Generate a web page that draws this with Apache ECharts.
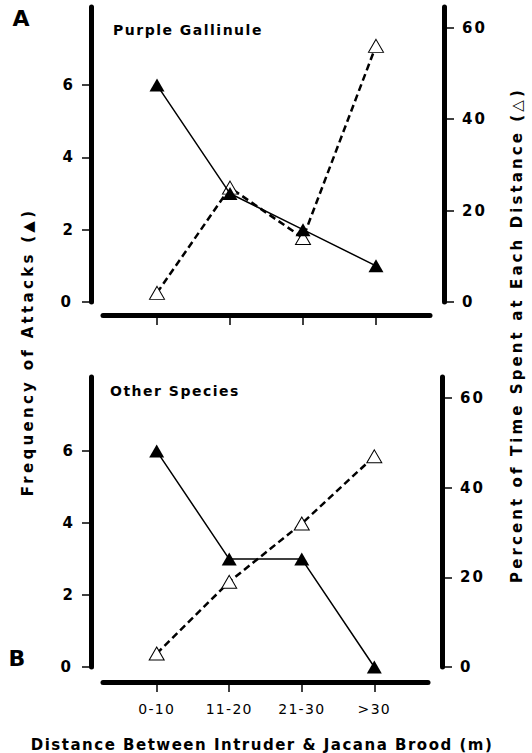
<!DOCTYPE html>
<html>
<head>
<meta charset="utf-8">
<script src="https://cdn.jsdelivr.net/npm/echarts@6/dist/echarts.min.js"></script>
<style>
html, body { margin: 0; padding: 0; background: #fff; }
#chart { width: 532px; height: 753px; }
</style>
</head>
<body>
<div id="chart"></div>
<script>
// distance classes and tick values
var distances = ['0-10', '11-20', '21-30', '>30'];
var freqTicks = [0, 2, 4, 6];
var pctTicks = [0, 20, 40, 60];

// A: Purple Gallinule
var gallinuleAttacks = [6, 3, 2, 1];      // frequency of attacks (filled)
var gallinuleTime = [2, 25, 14, 56];      // percent of time (open)

// B: Other species
var otherAttacks = [6, 3, 3, 0];
var otherTime = [3, 19, 32, 47];

var FONT = 'DejaVu Sans';
var leftTitle = 'Frequency of Attacks (\u25B2)';
var rightTitle = 'Percent of Time Spent at Each Distance (\u25B3)';
var xTitle = 'Distance Between Intruder & Jacana Brood (m)';

function pairs(vals) {
    return distances.map(function (d, i) { return [i, vals[i]]; });
}

var panels = [
    { grid: { left: 103, right: 102, top: 7, height: 295 }, freqMax: 8.16, pctMax: 64.5, xOffset: 13, labels: false,
      attacks: gallinuleAttacks, time: gallinuleTime },
    { grid: { left: 103, right: 104, top: 377, height: 290 }, freqMax: 8.06, pctMax: 64.7, xOffset: 15, labels: true,
      attacks: otherAttacks, time: otherTime }
];

var grids = [], xAxes = [], yAxes = [], series = [];
panels.forEach(function (p, k) {
    grids.push(p.grid);
    xAxes.push({
        type: 'value', gridIndex: k, position: 'bottom', min: -0.74, max: 3.74, offset: p.xOffset,
        axisLine: { show: true, onZero: false, lineStyle: { color: '#000', width: 5 } },
        axisTick: { show: true, customValues: [0, 1, 2, 3], length: 10, lineStyle: { color: '#000', width: 1.5 } },
        axisLabel: {
            show: p.labels, customValues: [0, 1, 2, 3], margin: 20,
            color: '#000', fontFamily: FONT, fontSize: 14,
            formatter: function (v) { return distances[Math.round(v)]; }
        },
        splitLine: { show: false }
    });
    yAxes.push({
        type: 'value', gridIndex: k, position: 'left', offset: 12, min: 0, max: p.freqMax,
        axisLine: { show: true, onZero: false, lineStyle: { color: '#000', width: 5 } },
        axisTick: { show: true, customValues: freqTicks, length: 9, lineStyle: { color: '#000', width: 1.5 } },
        axisLabel: { customValues: freqTicks, margin: 18, color: '#000', fontFamily: FONT, fontWeight: 'bold', fontSize: 15 },
        splitLine: { show: false }
    });
    yAxes.push({
        type: 'value', gridIndex: k, position: 'right', offset: 14, min: 0, max: p.pctMax,
        axisLine: { show: true, onZero: false, lineStyle: { color: '#000', width: 5 } },
        axisTick: { show: true, customValues: pctTicks, length: 10, lineStyle: { color: '#000', width: 1.5 } },
        axisLabel: { customValues: pctTicks, margin: 18, color: '#000', fontFamily: FONT, fontWeight: 'bold', fontSize: 15 },
        splitLine: { show: false }
    });
    series.push({
        type: 'line', xAxisIndex: k, yAxisIndex: 2 * k + 1, data: pairs(p.time),
        symbol: 'triangle', symbolSize: [15, 13],
        lineStyle: { color: '#000', width: 2.5, type: [7, 4] },
        itemStyle: { color: '#fff', borderColor: '#000', borderWidth: 1 },
        z: 2
    });
    series.push({
        type: 'line', xAxisIndex: k, yAxisIndex: 2 * k, data: pairs(p.attacks),
        symbol: 'triangle', symbolSize: [15, 13],
        lineStyle: { color: '#000', width: 1.5 },
        itemStyle: { color: '#000', borderColor: '#000', borderWidth: 0 },
        z: 3
    });
});

function label(text, x, y, size, opts) {
    opts = opts || {};
    return {
        type: 'text', x: x, y: y, rotation: opts.rotation || 0,
        style: {
            text: text, fill: '#000',
            font: 'bold ' + size + 'px "' + FONT + '"',
            textAlign: opts.align || 'center', align: opts.align || 'center',
            textVerticalAlign: 'middle', verticalAlign: 'middle'
        }
    };
}

var option = {
    animation: false,
    backgroundColor: '#fff',
    grid: grids,
    xAxis: xAxes,
    yAxis: yAxes,
    series: series,
    graphic: [
        label('A', 21, 18, 22),
        label('B', 17, 658, 22),
        label('Purple Gallinule', 113, 30, 14, { align: 'left' }),
        label('Other Species', 110, 391, 14, { align: 'left' }),
        label(leftTitle, 28, 352, 15, { rotation: Math.PI / 2 }),
        label(rightTitle, 517, 335, 15, { rotation: Math.PI / 2 }),
        label(xTitle, 262, 745, 15)
    ]
};

var chart = echarts.init(document.getElementById('chart'), null, { renderer: 'svg' });
chart.setOption(option);

// the printed figure uses wide letter tracking
var tracking = {};
tracking[leftTitle] = 3.3;
tracking[rightTitle] = 3.1;
tracking[xTitle] = 1.5;
tracking['Purple Gallinule'] = 1.5;
tracking['Other Species'] = 1.5;
distances.forEach(function (d) { tracking[d] = 1.3; });
pctTicks.forEach(function (t) { tracking[String(t)] = 2; });

function track() {
    document.querySelectorAll('#chart text').forEach(function (t) {
        var s = tracking[t.textContent];
        if (s != null) t.setAttribute('letter-spacing', s);
    });
}
chart.on('finished', track);
track();
</script>
</body>
</html>
